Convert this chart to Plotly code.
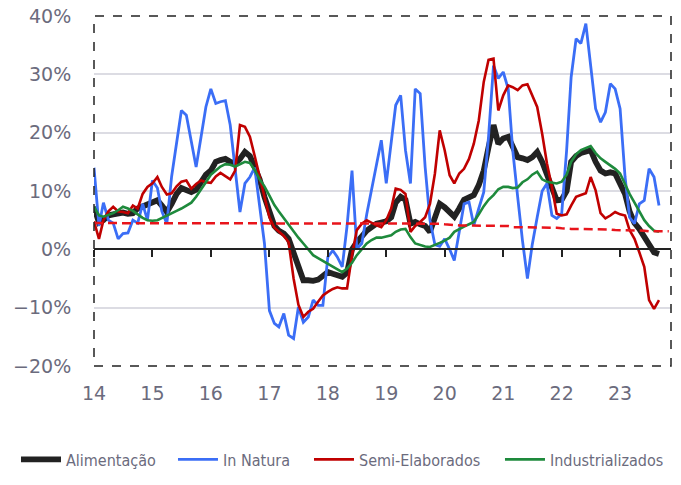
import pandas as pd
import plotly.graph_objects as go

# meses jan/2014 .. set/2023
meses = pd.date_range('2014-01-01', periods=117, freq='MS')
meses_media = pd.date_range('2014-01-01', periods=119, freq='MS')
anos = pd.date_range('2014-01-01', periods=10, freq='YS')

alimentacao = [
    7.3, 4.6, 5.0, 5.8, 6.0, 6.2, 6.3, 6.1, 6.2, 7.0, 7.3, 7.6,          # 2014
    8.0, 8.4, 7.5, 6.4, 7.8, 9.5, 10.5, 10.2, 9.8, 10.2, 11.5, 12.8,     # 2015
    13.5, 15.0, 15.3, 15.5, 15.0, 14.7, 15.5, 16.7, 16.0, 14.0, 12.0, 9.0,  # 2016
    6.5, 4.0, 3.2, 2.7, 1.8, -0.5, -3.0, -5.3, -5.3, -5.4, -5.2, -4.7,   # 2017
    -3.9, -4.2, -4.5, -4.7, -4.0, 0.0, 1.2, 2.3, 3.2, 3.8, 4.4, 4.6,     # 2018
    4.8, 5.5, 8.0, 9.0, 8.5, 4.4, 4.7, 4.3, 4.0, 3.0, 5.5, 7.8,          # 2019
    7.2, 6.4, 5.6, 7.0, 8.5, 8.9, 9.3, 11.0, 13.5, 17.5, 21.3, 18.1,     # 2020
    19.0, 19.3, 17.5, 15.8, 15.6, 15.3, 15.8, 16.7, 15.0, 12.7, 10.5, 8.4,  # 2021
    8.5, 10.0, 15.0, 16.0, 16.5, 16.7, 17.0, 15.0, 13.5, 13.0, 13.2, 13.0,  # 2022
    11.3, 9.5, 6.5, 4.5, 3.5, 2.0, 0.5, -0.5, -0.8,                      # 2023
]

in_natura = [
    14.0, 4.0, 8.0, 5.0, 4.5, 1.8, 2.7, 2.8, 5.0, 4.5, 7.8, 5.0,
    11.8, 10.5, 6.5, 4.4, 12.5, 18.0, 23.8, 23.0, 18.5, 14.1, 19.3, 24.4,
    27.5, 25.0, 25.3, 25.5, 21.3, 14.0, 6.4, 11.3, 12.4, 14.0, 7.5, 1.0,
    -10.5, -12.7, -13.3, -11.0, -14.7, -15.3, -9.9, -12.5, -11.6, -8.7, -9.6, -9.6,
    -1.3, -0.2, -1.3, -3.0, 4.0, 13.5, 0.1, 1.0, 6.0, 10.0, 14.1, 18.7,
    11.3, 18.0, 24.7, 26.4, 17.0, 11.3, 27.5, 26.7, 14.1, 5.0, 0.8, 0.5,
    1.8, 0.0, -1.9, 3.0, 7.8, 8.1, 4.1, 7.0, 9.8, 19.3, 31.5, 29.3,
    30.4, 27.5, 17.0, 9.0, 1.5, -5.0, 0.8, 5.5, 10.0, 11.3, 5.8, 5.3,
    6.1, 17.0, 29.5, 36.1, 35.3, 38.7, 31.8, 24.1, 21.8, 23.5, 28.4, 27.5,
    24.1, 12.4, 5.5, 4.4, 7.8, 8.4, 13.8, 12.4, 7.5,
]

semi_elaborados = [
    4.8, 1.8, 5.0, 6.5, 7.3, 6.5, 6.4, 6.2, 7.5, 7.0, 9.5, 10.7,
    11.3, 12.4, 10.7, 9.4, 9.6, 10.8, 11.6, 11.8, 10.4, 11.2, 11.8, 11.5,
    11.4, 12.5, 13.1, 12.6, 12.0, 13.5, 21.3, 21.0, 19.3, 16.0, 12.4, 9.0,
    5.5, 3.7, 3.0, 2.3, 1.2, -5.0, -9.5, -11.6, -10.7, -10.2, -9.0, -7.9,
    -7.3, -6.8, -6.5, -6.7, -6.7, -1.0, 3.3, 4.4, 5.0, 4.5, 4.1, 3.8,
    5.0, 7.0, 10.4, 10.2, 9.5, 3.0, 4.0, 4.7, 5.5, 7.8, 13.0, 20.4,
    17.0, 12.7, 11.3, 13.0, 13.8, 15.5, 18.1, 22.1, 28.7, 32.5, 32.7, 23.8,
    26.4, 28.1, 27.8, 27.3, 28.1, 28.3, 26.3, 24.4, 19.8, 14.7, 10.7, 6.1,
    5.8, 6.0, 7.5, 9.0, 9.3, 9.6, 12.4, 10.1, 6.2, 5.3, 5.8, 6.4,
    6.0, 5.8, 3.3, 1.8, -0.5, -3.0, -8.7, -10.2, -8.7,
]

industrializados = [
    7.3, 5.8, 5.6, 5.9, 6.2, 6.7, 7.3, 7.0, 6.6, 6.0, 5.4, 5.0,
    4.9, 5.0, 5.4, 5.8, 6.2, 6.6, 7.0, 7.5, 8.0, 9.0, 10.2, 11.5,
    12.8, 13.6, 14.2, 14.6, 14.5, 14.2, 14.6, 15.0, 14.8, 13.6, 12.0, 10.8,
    9.2, 7.6, 6.5, 5.3, 4.2, 3.0, 2.0, 1.0, 0.0, -1.0, -1.5, -2.0,
    -2.5, -3.0, -3.5, -3.9, -3.3, -2.3, -1.0, 0.0, 1.0, 1.6, 2.0, 2.0,
    2.2, 2.4, 3.0, 3.4, 3.5, 2.1, 1.0, 0.7, 0.5, 0.4, 0.7, 1.1,
    1.5, 2.0, 3.0, 3.5, 3.9, 4.3, 4.7, 6.0, 7.4, 8.5, 9.3, 10.3,
    10.7, 10.7, 10.5, 10.6, 11.5, 12.0, 12.8, 13.3, 12.0, 11.6, 11.4, 11.3,
    11.6, 12.8, 15.0, 16.3, 17.0, 17.3, 17.7, 16.5, 15.6, 15.0, 14.4, 13.8,
    13.0, 11.0, 9.5, 8.0, 6.5, 5.0, 4.0, 3.2, 3.0,
]

# média de longo prazo (tracejada)
media = [
    4.5, 4.5, 4.5, 4.5, 4.5, 4.5, 4.5, 4.5, 4.5, 4.5, 4.5, 4.5,
    4.5, 4.5, 4.5, 4.5, 4.5, 4.5, 4.5, 4.5, 4.5, 4.5, 4.5, 4.5,
    4.5, 4.5, 4.5, 4.5, 4.5, 4.5, 4.5, 4.5, 4.5, 4.5, 4.5, 4.5,
    4.5, 4.5, 4.5, 4.5, 4.5, 4.5, 4.5, 4.5, 4.5, 4.5, 4.5, 4.5,
    4.4, 4.4, 4.4, 4.4, 4.4, 4.4, 4.4, 4.4, 4.4, 4.4, 4.4, 4.4,
    4.4, 4.4, 4.4, 4.4, 4.4, 4.4, 4.4, 4.4, 4.4, 4.4, 4.4, 4.4,
    4.3, 4.2, 4.2, 4.1, 4.1, 4.1, 4.1, 4.1, 4.1, 4.1, 4.1, 4.1,
    4.1, 4.0, 3.8, 3.8, 3.8, 3.8, 3.8, 3.8, 3.8, 3.8, 3.8, 3.7,
    3.6, 3.5, 3.5, 3.5, 3.5, 3.5, 3.5, 3.5, 3.5, 3.5, 3.4, 3.3,
    3.3, 3.2, 3.2, 3.2, 3.2, 3.2, 3.1, 3.1, 3.1, 3.1, 3.1,
]

FONTE = 'DejaVu Sans'
FONTE_LEG = 'DejaVu Sans Condensed'
CINZA = '#6b6b7d'

fig = go.Figure()

# cada série com a sua legenda, para posicionar as entradas como no original
series = [
    ('Alimentação', alimentacao, '#222222', 5.8, 'legend'),
    ('In Natura', in_natura, '#3b6ef6', 2.8, 'legend2'),
    ('Semi-Elaborados', semi_elaborados, '#c00000', 2.6, 'legend3'),
    ('Industrializados', industrializados, '#1e8a3c', 2.6, 'legend4'),
]
for nome, vals, cor, larg, leg in series:
    fig.add_trace(go.Scatter(x=meses, y=vals, name=nome, mode='lines',
                             legend=leg, line=dict(color=cor, width=larg)))

# tracejada no eixo auxiliar (que desenha a linha do zero com os ticks)
fig.add_trace(go.Scatter(x=meses_media, y=media, mode='lines', showlegend=False,
                         xaxis='x2', yaxis='y',
                         line=dict(color='#e8141b', width=2.5, dash='9px,5px')))

# moldura tracejada
fig.add_shape(type='rect', xref='paper', yref='paper', x0=0, x1=1, y0=0, y1=1,
              line=dict(color='#222222', width=1.5, dash='dash'), layer='above')

x_range = ['2014-01-01', '2023-11-15']

leg_base = dict(orientation='h', y=-0.267, yanchor='middle', xanchor='left',
                font=dict(family=FONTE_LEG, size=16, color=CINZA),
                itemwidth=40, bgcolor='rgba(0,0,0,0)')

fig.update_layout(
    width=681, height=485,
    margin=dict(l=94, r=10, t=16, b=119, autoexpand=False),
    plot_bgcolor='white', paper_bgcolor='white',
    font=dict(family=FONTE, color=CINZA),
    xaxis=dict(type='date', range=x_range, tickvals=anos, tickformat='%y',
               showgrid=False, showline=False, zeroline=False,
               ticks='outside', ticklen=10, tickcolor='rgba(0,0,0,0)',
               tickfont=dict(size=19, color=CINZA)),
    xaxis2=dict(type='date', range=x_range, overlaying='x', anchor='free',
                position=1 / 3, side='bottom', tickvals=anos,
                showticklabels=False, showgrid=False, zeroline=False,
                showline=True, linecolor='#222222', linewidth=1.5,
                ticks='outside', ticklen=7, tickwidth=1.5, tickcolor='#222222'),
    yaxis=dict(range=[-20, 40], dtick=10, ticksuffix='%',
               showgrid=True, gridcolor='#dcdce3', gridwidth=1.5,
               zeroline=False, showline=False,
               ticks='outside', ticklen=18, tickcolor='rgba(0,0,0,0)',
               tickfont=dict(size=19, color=CINZA)),
    legend=dict(leg_base, x=-0.1352),
    legend2=dict(leg_base, x=0.1369),
    legend3=dict(leg_base, x=0.3726),
    legend4=dict(leg_base, x=0.7036),
)

# sem a margem padrão do <body> e sem a barra de ferramentas
fig.write_html('out.html', config={'displayModeBar': False},
               post_script="document.body.style.margin='0';")
